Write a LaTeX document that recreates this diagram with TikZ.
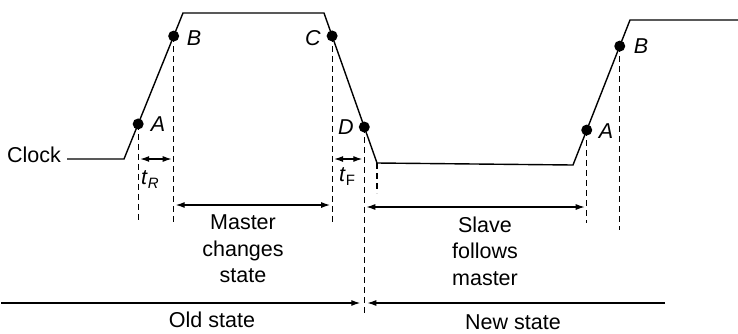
\documentclass[tikz,border=0pt]{standalone}
\usepackage{fontspec}
\setmainfont{Liberation Sans}
\usetikzlibrary{arrows.meta,calc}
\begin{document}
\begin{tikzpicture}[x=1pt,y=-1pt,
  wave/.style={line width=1.4pt, line join=miter},
  guide/.style={line width=1.2pt, dash pattern=on 6pt off 4pt},
  dim/.style={line width=1.2pt, {Latex[length=9pt,width=6pt]}-{Latex[length=9pt,width=6pt]}, shorten <=2pt, shorten >=2pt},
  onearrow/.style={line width=1.2pt, -{Latex[length=9pt,width=6pt]}},
  dot/.style={circle, fill=black, inner sep=0pt, minimum size=11pt},
  lbl/.style={font=\fontsize{21.5}{26}\selectfont\itshape, inner sep=0pt},
  txt/.style={font=\fontsize{21.5}{26.5}\selectfont, align=center, inner sep=0pt},
  ]
\useasboundingbox (0,0) rectangle (738,333);
% waveform corners
\coordinate (w0) at (67,159);
\coordinate (w1) at (124,159);
\coordinate (w2) at (183,13);
\coordinate (w3) at (324,13);
\coordinate (w4) at (377,163);
\coordinate (w5) at (573,165);
\coordinate (w6) at (630,20);
\coordinate (w7) at (738,20);
\draw[wave] (w0) -- (w1) -- (w2) -- (w3) -- (w4) -- (w5) -- (w6) -- (w7);
% dots
\node[dot] (A1) at ($(w1)!0.24!(w2)$) {};
\node[dot] (B1) at ($(w1)!0.842!(w2)$) {};
\node[dot] (C) at ($(w3)!0.153!(w4)$) {};
\node[dot] (D) at ($(w3)!0.76!(w4)$) {};
\node[dot] (A2) at ($(w5)!0.241!(w6)$) {};
\node[dot] (B2) at ($(w5)!0.82!(w6)$) {};
% labels
\node[lbl] (lA1) at (158,124) {A};
\node[lbl] (lB1) at (194,38) {B};
\node[lbl] (lC) at (313,38) {C};
\node[lbl] (lD) at (346,127) {D};
\node[lbl] (lA2) at (606,131) {A};
\node[lbl] (lB2) at (641,46) {B};
\node[anchor=east, font=\fontsize{21.5}{26}\selectfont, inner sep=0pt] (clk) at (61,155) {Clock};
% guide lines
\coordinate (y220) at (0,221);
\coordinate (y223) at (0,223);
\coordinate (y313) at (0,313);
\coordinate (y193) at (0,193);
\coordinate (y230) at (0,230);
\draw[guide] (A1.center) -- (A1 |- y220);
\draw[guide] (B1.center) -- (B1 |- y223);
\draw[guide] (C.center) -- (C |- y223);
\draw[guide] (D.center) -- (D |- y313);
\draw[guide] (w4) -- (w4 |- y193);
\draw[guide] (A2.center) -- (A2 |- y223);
\draw[guide] (B2.center) -- (B2 |- y230);
% rise/fall time
\coordinate (yR) at (0,159);
\draw[dim] (A1 |- yR) -- (B1 |- yR);
\draw[dim] (C |- yR) -- (D |- yR);
\node[font=\fontsize{21.5}{26}\selectfont, inner sep=0pt] (tR) at (150,180) {\textit{t}\raisebox{-4pt}{\fontsize{15}{17}\selectfont\textit{R}}};
\node[font=\fontsize{21.5}{26}\selectfont, inner sep=0pt] (tF) at (347,177) {\textit{t}\raisebox{-4pt}{\fontsize{15}{17}\selectfont F}};
% master / slave spans
\coordinate (ym) at (0,205);
\coordinate (ys) at (0,207);
\draw[dim] (B1 |- ym) -- (C |- ym);
\draw[dim] (D |- ys) -- (A2 |- ys);
\node[txt] (mst) at (243,249) {Master\\changes\\state};
\node[txt] (slv) at (485,251) {Slave\\follows\\master};
% old / new state
\coordinate (yo) at (0,303);
\coordinate (oldL) at (1,303);
\coordinate (newR) at (665,303);
\draw[onearrow, shorten >=4pt] (oldL) -- (D |- yo);
\draw[onearrow, shorten >=3pt] (newR) -- (D |- yo);
\node[txt] (old) at (212,320) {Old state};
\node[txt] (new) at (513,322) {New state};
\end{tikzpicture}
\end{document}
